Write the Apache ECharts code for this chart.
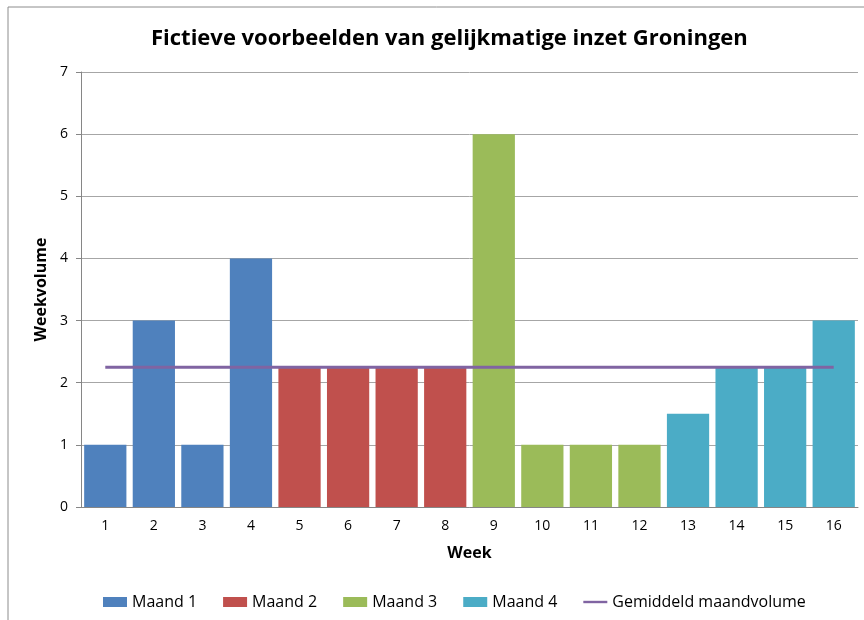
<!DOCTYPE html>
<html lang="nl">
<head>
    <meta charset="utf-8">
    <title>Fictieve voorbeelden</title>
    <script src="https://cdn.jsdelivr.net/npm/echarts@6/dist/echarts.min.js"></script>
    <style>
        html, body { margin: 0; padding: 0; background: #fff; }
        #chart { width: 864px; height: 620px; }
    </style>
</head>
<body>
<div id="chart"></div>
<script type="text/javascript">
    var weeks = ['1','2','3','4','5','6','7','8','9','10','11','12','13','14','15','16'];
    var maand1 = [1, 3, 1, 4, '-', '-', '-', '-', '-', '-', '-', '-', '-', '-', '-', '-'];
    var maand2 = ['-', '-', '-', '-', 2.25, 2.25, 2.25, 2.25, '-', '-', '-', '-', '-', '-', '-', '-'];
    var maand3 = ['-', '-', '-', '-', '-', '-', '-', '-', 6, 1, 1, 1, '-', '-', '-', '-'];
    var maand4 = ['-', '-', '-', '-', '-', '-', '-', '-', '-', '-', '-', '-', 1.5, 2.25, 2.25, 3];
    var gemiddeld = [2.25, 2.25, 2.25, 2.25, 2.25, 2.25, 2.25, 2.25, 2.25, 2.25, 2.25, 2.25, 2.25, 2.25, 2.25, 2.25];

    var font = 'Open Sans';
    var myChart = echarts.init(document.getElementById('chart'));

    function bar(name, data, color) {
        return {
            name: name,
            type: 'bar',
            stack: 'maand',
            data: data,
            barCategoryGap: '13%',
            itemStyle: { color: color }
        };
    }

    var option = {
        animation: false,
        textStyle: { fontFamily: font },
        graphic: [{
            type: 'rect',
            shape: { x: 8, y: 7, width: 900, height: 700 },
            style: { fill: 'none', stroke: '#8c8c8c', lineWidth: 1 },
            silent: true
        }],
        title: {
            text: 'Fictieve voorbeelden van gelijkmatige inzet Groningen',
            left: 146,
            top: 23,
            textStyle: { fontSize: 22, fontWeight: 'bold', color: '#000', fontFamily: font }
        },
        legend: {
            bottom: 5,
            left: 98,
            itemWidth: 24,
            itemHeight: 10,
            itemGap: 26,
            textStyle: { fontSize: 16, color: '#000' },
            data: [
                { name: 'Maand 1', icon: 'rect' },
                { name: 'Maand 2', icon: 'rect' },
                { name: 'Maand 3', icon: 'rect' },
                { name: 'Maand 4', icon: 'rect' },
                { name: 'Gemiddeld maandvolume', icon: 'path://M0,0H30V3H0Z' }
            ]
        },
        grid: { left: 81, right: 6, top: 72, bottom: 113 },
        xAxis: {
            type: 'category',
            data: weeks,
            name: 'Week',
            nameLocation: 'middle',
            nameGap: 38,
            nameTextStyle: { fontSize: 16, fontWeight: 'bold', color: '#000' },
            axisLine: { lineStyle: { color: '#868686' } },
            axisTick: { lineStyle: { color: '#868686' }, length: 5 },
            axisLabel: { fontSize: 14, color: '#000', margin: 12 }
        },
        yAxis: {
            type: 'value',
            min: 0,
            max: 7,
            interval: 1,
            name: 'Weekvolume',
            nameLocation: 'middle',
            nameGap: 32,
            nameTextStyle: { fontSize: 16, fontWeight: 'bold', color: '#000' },
            axisLine: { show: true, lineStyle: { color: '#868686' } },
            axisTick: { show: true, lineStyle: { color: '#868686' }, length: 5 },
            axisLabel: { fontSize: 14, color: '#000', margin: 13 },
            splitLine: { lineStyle: { color: '#a6a6a6' } }
        },
        series: [
            bar('Maand 1', maand1, '#4F81BD'),
            bar('Maand 2', maand2, '#C0504D'),
            bar('Maand 3', maand3, '#9BBB59'),
            bar('Maand 4', maand4, '#4BACC6'),
            {
                name: 'Gemiddeld maandvolume',
                type: 'line',
                data: gemiddeld,
                symbol: 'none',
                showSymbol: false,
                z: 5,
                lineStyle: { color: '#8064A2', width: 3 },
                itemStyle: { color: '#8064A2' }
            }
        ]
    };

    myChart.setOption(option);
</script>
</body>
</html>
